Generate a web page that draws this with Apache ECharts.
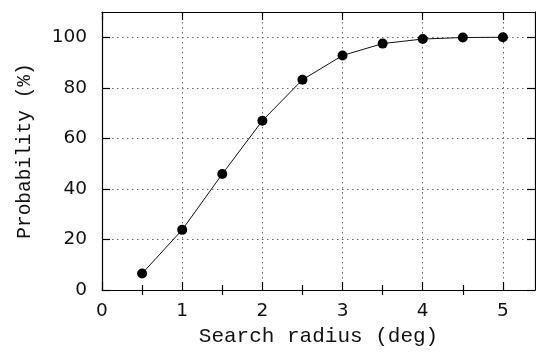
<!DOCTYPE html>
<html>
<head>
<meta charset="utf-8">
<script src="https://cdn.jsdelivr.net/npm/echarts@6/dist/echarts.min.js"></script>
<style>
  html, body { margin: 0; padding: 0; background: #fff; }
  #chart { width: 536px; height: 355px; }
</style>
</head>
<body>
<div id="chart"></div>
<script>
// Detection probability versus search radius
const radius = [0.5, 1, 1.5, 2, 2.5, 3, 3.5, 4, 4.5, 5];
const probability = [6.5, 23.8, 45.9, 67.0, 83.2, 92.8, 97.5, 99.3, 99.9, 100];

const xMajorTicks = [0, 1, 2, 3, 4, 5];
const xMinorTicks = [0.5, 1.5, 2.5, 3.5, 4.5];
const yMajorTicks = [0, 20, 40, 60, 80, 100];

const X_MAX = 5.4;
const Y_MAX = 110;

const tickFont = { fontFamily: 'DejaVu Sans', fontSize: 18.5, color: '#111' };
const titleFont = { fontFamily: 'Liberation Mono', color: '#111' };
const gridLine = { color: '#666', width: 1, type: [1.5, 3.5] };
const frame = { color: '#000', width: 1.2 };

function xAxis(position, ticks, len, opts) {
  return Object.assign({
    type: 'value', position: position, min: 0, max: X_MAX,
    axisLine: { show: true, lineStyle: frame, onZero: false },
    axisTick: { show: true, inside: true, length: len, customValues: ticks, lineStyle: frame },
    axisLabel: { show: false },
    splitLine: { show: false }
  }, opts || {});
}

const chart = echarts.init(document.getElementById('chart'), null, { renderer: 'canvas' });
chart.setOption({
  animation: false,
  backgroundColor: '#fff',
  grid: { left: 102, right: 1, top: 12, bottom: 65, containLabel: false },
  xAxis: [
    xAxis('bottom', xMajorTicks, 8, {
      name: 'Search radius (deg)',
      nameLocation: 'middle',
      nameGap: 36,
      nameTextStyle: Object.assign({ fontSize: 21 }, titleFont),
      axisLabel: Object.assign({ show: true, margin: 12, customValues: xMajorTicks }, tickFont),
      splitLine: { show: true, lineStyle: gridLine }
    }),
    xAxis('bottom', xMinorTicks, 5, { axisLine: { show: false } }),
    xAxis('top', xMajorTicks, 8),
    xAxis('top', xMinorTicks, 5, { axisLine: { show: false } })
  ],
  yAxis: [
    {
      type: 'value', position: 'left', min: 0, max: Y_MAX,
      name: 'Probability (%)',
      nameLocation: 'middle',
      nameGap: 67,
      nameTextStyle: Object.assign({ fontSize: 19.5 }, titleFont),
      axisLine: { show: true, lineStyle: frame, onZero: false },
      axisTick: { show: true, inside: true, length: 8, customValues: yMajorTicks, lineStyle: frame },
      axisLabel: Object.assign({ show: true, margin: 15, customValues: yMajorTicks }, tickFont),
      splitLine: { show: true, lineStyle: gridLine }
    },
    {
      type: 'value', position: 'right', min: 0, max: Y_MAX,
      axisLine: { show: true, lineStyle: frame, onZero: false },
      axisTick: { show: true, inside: true, length: 8, customValues: yMajorTicks, lineStyle: frame },
      axisLabel: { show: false },
      splitLine: { show: false }
    }
  ],
  series: [{
    type: 'line',
    xAxisIndex: 0,
    yAxisIndex: 0,
    data: radius.map((r, i) => [r, probability[i]]),
    symbol: 'circle',
    symbolSize: 10,
    itemStyle: { color: '#000' },
    lineStyle: { color: '#111', width: 1 },
    z: 5
  }]
});
</script>
</body>
</html>
